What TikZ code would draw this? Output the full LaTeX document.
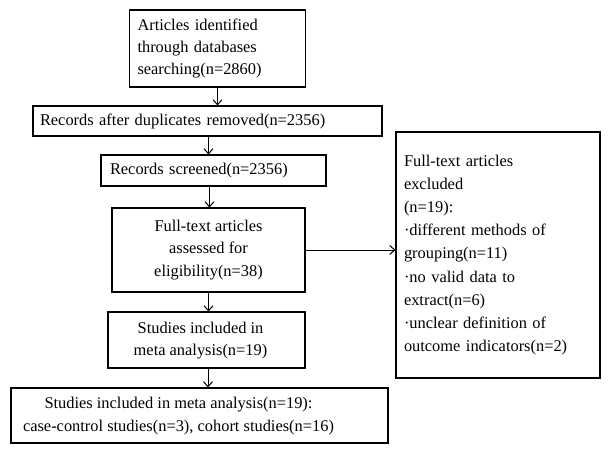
\documentclass[tikz,border=0pt]{standalone}
\usepackage{fontspec}
\setmainfont{Liberation Serif}
\usetikzlibrary{arrows.meta}
\begin{document}
\begin{tikzpicture}[x=1pt,y=-1pt,
  box/.style={draw,line width=1.1pt,rectangle,inner sep=0pt,font=\fontsize{16.4}{22.2}\selectfont},
  arr/.style={line width=1pt,-{Straight Barb[length=5pt,width=9pt,line width=1pt]}}]
\useasboundingbox (0,0) rectangle (611,459);
\node[box,minimum width=175pt,minimum height=77pt,text width=160pt,align=left,inner xsep=8pt] (a) at (217.5,48.5)
  {Articles identified\\through databases\\searching(n=2860)};
\node[box,minimum width=349pt,minimum height=30pt,text width=335pt,align=left,inner xsep=7pt] (b) at (207.5,121)
  {Records after duplicates removed(n=2356)};
\node[box,minimum width=225pt,minimum height=31pt,text width=207pt,align=left,inner xsep=9pt] (c) at (213.5,170.5)
  {Records screened(n=2356)};
\node[box,minimum width=193pt,minimum height=84pt,align=center] (d) at (208.5,250)
  {Full-text articles\\assessed for\\eligibility(n=38)};
\node[box,minimum width=197pt,minimum height=56pt,align=center] (e) at (206.5,340)
  {\begin{tabular}{@{}c@{}}Studies included in\\meta analysis(n=19)\end{tabular}\hspace*{12pt}};
\node[box,minimum width=377pt,minimum height=55pt,align=center] (f) at (199.5,415.5)
  {\begin{tabular}{@{}c@{}}Studies included in meta analysis(n=19):\\case-control studies(n=3), cohort studies(n=16)\end{tabular}\hspace*{42pt}};
\node[box,minimum width=204pt,minimum height=246pt,text width=188pt,align=left,inner xsep=8pt,font=\fontsize{16.4}{23.2}\selectfont] (g) at (498,255)
  {Full-text articles\\excluded\\(n=19):\\·different methods of\\grouping(n=11)\\·no valid data to\\extract(n=6)\\·unclear definition of\\outcome indicators(n=2)};
\draw[arr] (a.south) -- (a.south |- b.north);
\draw[arr] (b.south -| c.north) ++(-5,0) -- ([xshift=-5pt]c.north);
\draw[arr] (c.south) ++(-4,0) -- ([xshift=-4pt]c.south |- d.north);
\draw[arr] (d.south) -- (d.south |- e.north);
\draw[arr] (e.south) ++(1.5,0) -- ([xshift=1.5pt]e.south |- f.north);
\draw[arr] (d.east) -- (g.west |- d.east);
\end{tikzpicture}
\end{document}
